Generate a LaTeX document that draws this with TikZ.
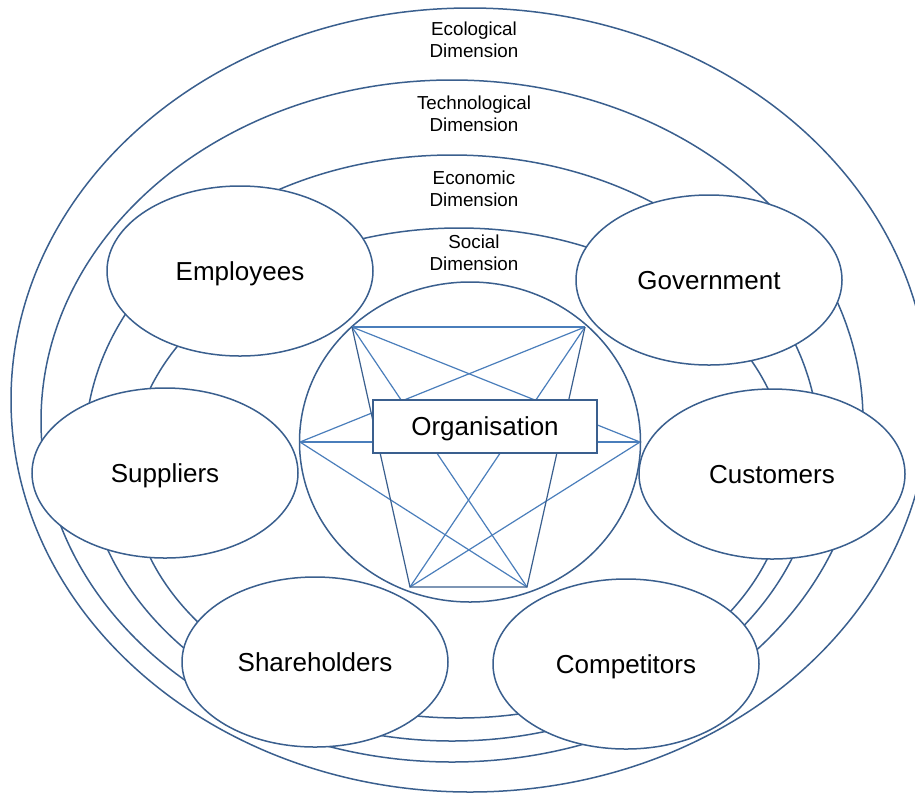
\documentclass[tikz,border=0pt]{standalone}
\usepackage{fontspec}
\setmainfont{Liberation Sans}
\usetikzlibrary{shapes.geometric}
\definecolor{ringblue}{HTML}{3A5F8E}
\definecolor{linkblue}{HTML}{4A7EBB}
\begin{document}
\begin{tikzpicture}[x=0.5pt,y=-0.5pt,ring/.style={draw=ringblue,line width=0.75pt},dimlabel/.style={align=center,font=\fontsize{9.4}{11.2}\selectfont},holder/.style={ellipse,draw=ringblue,line width=0.75pt,fill=white,inner sep=0pt,minimum width=133pt,minimum height=85pt,text depth=0pt,font=\fontsize{13}{15}\selectfont},orgring/.style={ellipse,draw=ringblue,line width=0.75pt,fill=white,inner sep=0pt,minimum width=170.5pt,minimum height=160pt},orgbox/.style={draw=ringblue,line width=0.75pt,fill=white,minimum width=112pt,minimum height=26.5pt,text depth=0pt,font=\fontsize{13}{15}\selectfont},link/.style={draw=linkblue,line width=0.6pt},edge/.style={draw=ringblue,line width=0.6pt}]
\useasboundingbox (0,0) rectangle (915,794);
\draw[ring] (470,400) ellipse [x radius=459, y radius=392];\draw[ring] (452,421) ellipse [x radius=411, y radius=341];
\draw[ring] (452,448) ellipse [x radius=367, y radius=293];\draw[ring] (459,473) ellipse [x radius=329, y radius=245];
\node[dimlabel] (ecological) at (474,40) {Ecological\\Dimension};
\node[dimlabel] (technological) at (474,114) {Technological\\Dimension};
\node[dimlabel] (economic) at (474,189) {Economic\\Dimension};
\node[dimlabel] (social) at (474,253) {Social\\Dimension};
\node[orgring] (org) at (470,442) {};
\coordinate (tl) at (352,327);\coordinate (tr) at (585,327);\coordinate (ml) at (300,442);
\coordinate (mr) at (640,442);\coordinate (bl) at (410,587);\coordinate (br) at (527,587);
\draw[link] (tl) -- (tr);\draw[link] (tl) -- (mr);\draw[link] (tl) -- (br);\draw[link] (tr) -- (ml);\draw[link] (tr) -- (bl);
\draw[link] (ml) -- (mr);\draw[link] (ml) -- (br);\draw[link] (mr) -- (bl);
\draw[edge] (tl) -- (bl) -- (br) -- (tr);
\node[orgbox] (organisation) at (485,426.5) {Organisation};
\node[holder] (employees) at (240,271) {Employees};
\node[holder] (government) at (709,280) {Government};
\node[holder] (suppliers) at (165,473) {Suppliers};
\node[holder] (customers) at (772,474) {Customers};
\node[holder] (shareholders) at (315,662) {Shareholders};
\node[holder] (competitors) at (626,664) {Competitors};
\end{tikzpicture}
\end{document}
